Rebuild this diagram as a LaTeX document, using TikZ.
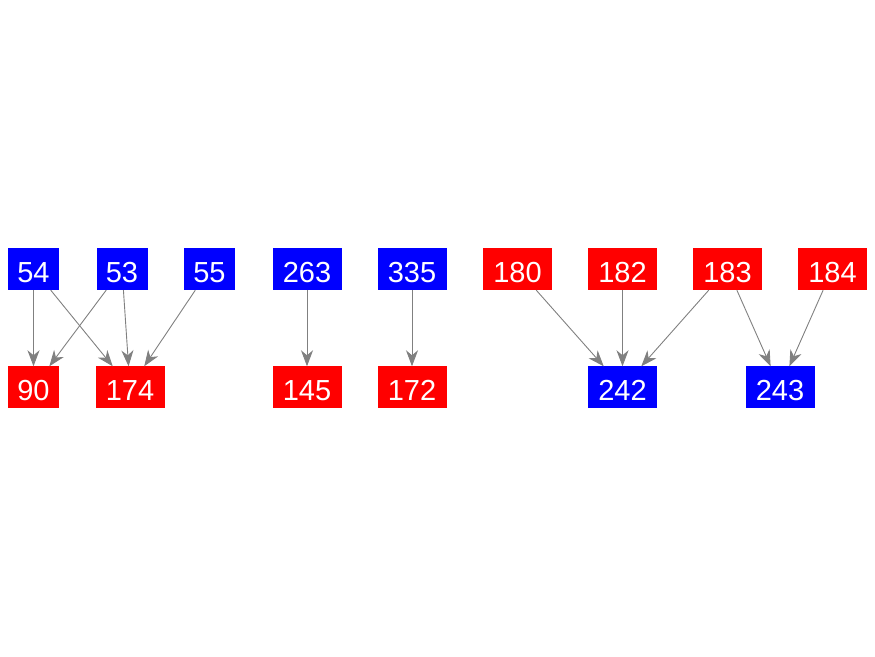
\documentclass[tikz,border=0pt]{standalone}
\usepackage{fontspec}
\setmainfont{Liberation Sans}
\usetikzlibrary{arrows.meta}
\begin{document}
\begin{tikzpicture}[x=1pt,y=1pt,
  box/.style={rectangle, inner sep=0pt, minimum height=42pt, text=white,
    font=\fontsize{29}{32}\selectfont, text height=26.5pt, text depth=0pt},
  two/.style={box, minimum width=51pt},
  three/.style={box, minimum width=69pt},
  rb/.style={fill=red},
  bb/.style={fill=blue},
  edge/.style={draw=gray, line width=0.9pt, -{Stealth[length=16pt,width=12pt,inset=5pt]}}]
\useasboundingbox (0,0) rectangle (875,656);
% top row
\node[two,bb] (n54) at (33.5,387) {54};
\node[two,bb] (n53) at (122,387) {53};
\node[two,bb] (n55) at (209.5,387) {55};
\node[three,bb] (n263) at (307,387) {263};
\node[three,bb] (n335) at (412,387) {335};
\node[three,rb] (n180) at (517.5,387) {180};
\node[three,rb] (n182) at (622.5,387) {182};
\node[three,rb] (n183) at (727.5,387) {183};
\node[three,rb] (n184) at (832.5,387) {184};
% bottom row
\node[two,rb] (n90) at (33.5,268.5) {90};
\node[three,rb] (n174) at (130,268.5) {174};
\node[three,rb] (n145) at (307,268.5) {145};
\node[three,rb] (n172) at (412,268.5) {172};
\node[three,bb] (n242) at (622.5,268.5) {242};
\node[three,bb] (n243) at (780,268.5) {243};
% edges
\draw[edge] (n54) -- (n90);
\draw[edge] (n54) -- (n174);
\draw[edge] (n53) -- (n90);
\draw[edge] (n53) -- (n174);
\draw[edge] (n55) -- (n174);
\draw[edge] (n263) -- (n145);
\draw[edge] (n335) -- (n172);
\draw[edge] (n180) -- (n242);
\draw[edge] (n182) -- (n242);
\draw[edge] (n183) -- (n242);
\draw[edge] (n183) -- (n243);
\draw[edge] (n184) -- (n243);
\end{tikzpicture}
\end{document}
